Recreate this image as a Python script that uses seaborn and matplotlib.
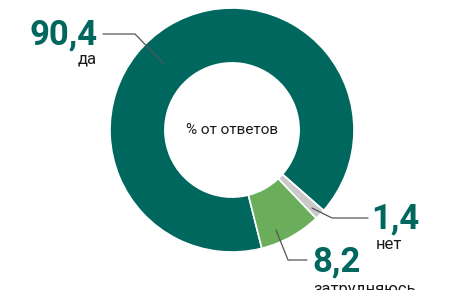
import matplotlib
matplotlib.use("Agg")
import matplotlib.pyplot as plt
import seaborn as sns

sns.set_theme(style="white")
plt.rcParams['font.family'] = ['Roboto', 'DejaVu Sans']

categories = ["да", "затрудняюсь", "нет"]
values = [90.4, 8.2, 1.4]
value_labels = ["90,4", "8,2", "1,4"]
colors = ["#00675f", "#6aae5b", "#c9c9c9"]
center_text = "% от ответов"

W, H = 464, 290
fig = plt.figure(figsize=(W / 100, H / 100), dpi=100)
ax = fig.add_axes([0, 0, 1, 1])

def py(y):
    return H - y

cx, cy, R = 232, py(130), 122
ax.pie(values, colors=colors, startangle=-41.3, counterclock=True,
       center=(cx, cy), radius=R,
       wedgeprops=dict(width=R * 0.45, edgecolor="white", linewidth=1.2))
ax.set_xlim(0, W)
ax.set_ylim(0, H)
ax.set_aspect("equal")
ax.axis("off")

ax.text(cx, cy, center_text, ha="center", va="center", fontsize=11, color="#1a1a1a")

teal = "#00675f"
lc = "#555555"
# да
ax.plot([103, 135, 163], [py(34), py(34), py(63)], color=lc, lw=0.9)
ax.text(98, py(44), value_labels[0], ha="right", va="baseline", fontsize=25,
        fontweight="bold", color=teal)
ax.text(97, py(63), categories[0], ha="right", va="baseline", fontsize=12, color="#1a1a1a")
# нет
ax.plot([312, 332, 368], [py(208), py(218), py(218)], color=lc, lw=0.9)
ax.text(371, py(228), value_labels[2], ha="left", va="baseline", fontsize=25,
        fontweight="bold", color=teal)
ax.text(376, py(249), categories[2], ha="left", va="baseline", fontsize=12, color="#1a1a1a")
# затрудняюсь
ax.plot([276, 288, 307], [py(230), py(260), py(260)], color=lc, lw=0.9)
ax.text(312, py(271), value_labels[1], ha="left", va="baseline", fontsize=25,
        fontweight="bold", color=teal)
ax.text(313, py(294), categories[1], ha="left", va="baseline", fontsize=12, color="#1a1a1a")

fig.savefig("out.png", dpi=100)
